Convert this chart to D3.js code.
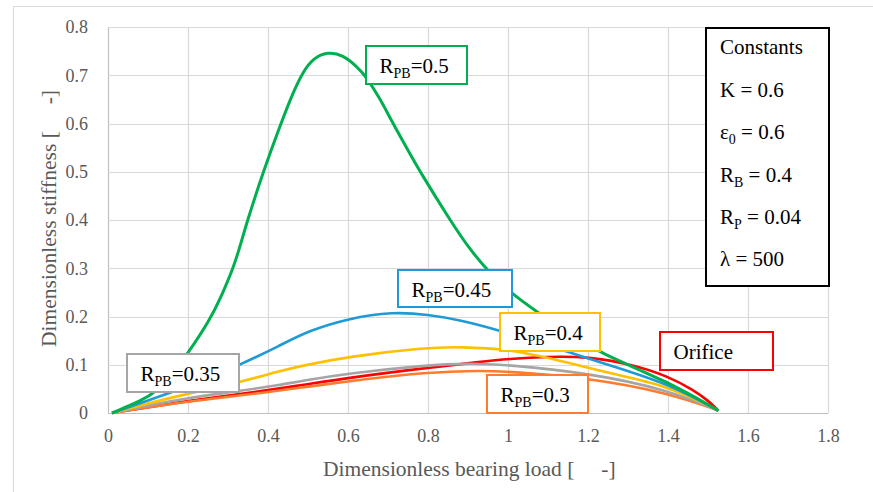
<!DOCTYPE html>
<html>
<head>
<meta charset="utf-8">
<script src="https://cdn.jsdelivr.net/npm/d3@7"></script>
<style>
  body { margin: 0; background: white; }
  text { white-space: pre; }
</style>
</head>
<body>
<div id="chart"></div>
<script>
const FONT = 'Liberation Serif, Times New Roman, serif'

// stiffness vs load
const loadOrifice = [0.01, 0.1, 0.2, 0.33, 0.48, 0.6, 0.8, 0.93, 1.0, 1.1, 1.2, 1.313, 1.4, 1.463, 1.5, 1.526]
const stiffOrifice = [0, 0.012, 0.025, 0.039, 0.057, 0.073, 0.094, 0.106, 0.112, 0.117, 0.117, 0.1, 0.076, 0.048, 0.026, 0.005]

const load030 = [0.01, 0.1, 0.2, 0.33, 0.48, 0.6, 0.8, 0.93, 1.0, 1.2, 1.4, 1.526]
const stiff030 = [0, 0.012, 0.024, 0.036, 0.052, 0.066, 0.085, 0.088, 0.086, 0.073, 0.042, 0.005]

const load035 = [0.01, 0.1, 0.2, 0.33, 0.43, 0.48, 0.6, 0.8, 0.9, 1.0, 1.2, 1.4, 1.526]
const stiff035 = [0, 0.016, 0.031, 0.046, 0.058, 0.066, 0.082, 0.0995, 0.103, 0.1, 0.083, 0.048, 0.005]

const load040 = [0.01, 0.1, 0.2, 0.33, 0.43, 0.48, 0.6, 0.8, 0.88, 1.0, 1.1, 1.238, 1.4, 1.526]
const stiff040 = [0, 0.02, 0.04, 0.064, 0.087, 0.097, 0.117, 0.136, 0.137, 0.132, 0.115, 0.085, 0.057, 0.005]

const load045 = [0.01, 0.1, 0.2, 0.33, 0.43, 0.5, 0.6, 0.713, 0.8, 0.88, 0.976, 1.1, 1.238, 1.4, 1.526]
const stiff045 = [0, 0.026, 0.055, 0.0995, 0.14, 0.17, 0.196, 0.21, 0.204, 0.193, 0.172, 0.14, 0.103, 0.0615, 0.005]

const load050 = [0.01, 0.088, 0.12, 0.15, 0.2, 0.255, 0.285, 0.313, 0.33, 0.347, 0.388, 0.434, 0.463, 0.488, 0.513, 0.549,
    0.588, 0.622, 0.6425, 0.68, 0.709, 0.745, 0.78, 0.855, 0.905, 0.96, 1.013, 1.072, 1.15, 1.23, 1.4, 1.526]
const stiff050 = [0, 0.027, 0.045, 0.068, 0.124, 0.193, 0.245, 0.3, 0.345, 0.395, 0.5, 0.604, 0.665, 0.708, 0.735, 0.749,
    0.742, 0.718, 0.70, 0.652, 0.605, 0.552, 0.5, 0.4, 0.338, 0.285, 0.245, 0.21, 0.165, 0.124, 0.065, 0.005]

const xTicks = [0, 0.2, 0.4, 0.6, 0.8, 1, 1.2, 1.4, 1.6, 1.8]
const yTicks = [0, 0.1, 0.2, 0.3, 0.4, 0.5, 0.6, 0.7, 0.8]

const constants = [
    {name: 'K', sub: '', value: '0.6'},
    {name: 'ε', sub: '0', value: '0.6'},
    {name: 'R', sub: 'B', value: '0.4'},
    {name: 'R', sub: 'P', value: '0.04'},
    {name: 'λ', sub: '', value: '500'},
]

// drawing order: bottom first
const series = [
    {label: 'Orifice', x: loadOrifice, y: stiffOrifice, color: '#ff0000', w: 2.6},
    {label: '0.3', x: load030, y: stiff030, color: '#ff7b2e', w: 2.6},
    {label: '0.35', x: load035, y: stiff035, color: '#a5a5a5', w: 2.6},
    {label: '0.4', x: load040, y: stiff040, color: '#ffc000', w: 2.6},
    {label: '0.45', x: load045, y: stiff045, color: '#1e9bd7', w: 2.6},
    {label: '0.5', x: load050, y: stiff050, color: '#00b050', w: 3},
]

// label boxes (pixels)
const boxes = [
    {text: '0.5', color: '#00b050', x: 366, y: 46, w: 101, h: 38},
    {text: '0.45', color: '#1e9bd7', x: 398, y: 270, w: 114, h: 37},
    {text: '0.4', color: '#ffc000', x: 500, y: 313, w: 100, h: 38},
    {text: '0.3', color: '#ff7b2e', x: 487, y: 375, w: 101, h: 38},
    {text: '0.35', color: '#a5a5a5', x: 127, y: 354, w: 112, h: 38},
    {text: 'Orifice', color: '#ff0000', x: 660, y: 332, w: 113, h: 38},
]

const width = 873, height = 492
const svg = d3.select('#chart').append('svg')
    .attr('width', width)
    .attr('height', height)
    .attr('font-family', FONT)

// outer frame
svg.append('rect')
    .attr('x', 13.5).attr('y', 6.5)
    .attr('width', 900).attr('height', 600)
    .attr('fill', 'white')
    .attr('stroke', '#d9d9d9')

const x = d3.scaleLinear().domain([0, 1.8]).range([108, 828])
const y = d3.scaleLinear().domain([0, 0.8]).range([413, 27])

// grid
svg.append('g').selectAll('line')
    .data(xTicks)
    .enter()
    .append('line')
    .attr('x1', d => Math.round(x(d)) + 0.5)
    .attr('x2', d => Math.round(x(d)) + 0.5)
    .attr('y1', y(0.8))
    .attr('y2', y(0))
    .attr('stroke', d => d === 0 ? '#bfbfbf' : '#d9d9d9')
    .attr('stroke-width', 1.2)

svg.append('g').selectAll('line')
    .data(yTicks)
    .enter()
    .append('line')
    .attr('x1', x(0))
    .attr('x2', x(1.8))
    .attr('y1', d => Math.round(y(d)) + 0.5)
    .attr('y2', d => Math.round(y(d)) + 0.5)
    .attr('stroke', d => d === 0 ? '#bfbfbf' : '#d9d9d9')
    .attr('stroke-width', 1.2)

// axes (labels only)
const xAxis = svg.append('g')
    .attr('transform', `translate(0, ${y(0) + 10})`)
    .call(d3.axisBottom(x).tickValues(xTicks).tickSize(0).tickPadding(6).tickFormat(d3.format('~g')))
xAxis.attr('font-family', FONT).attr('font-size', 18)
xAxis.select('.domain').remove()
xAxis.selectAll('text').attr('fill', '#595959')

const yAxis = svg.append('g')
    .attr('transform', `translate(${x(0) - 20}, 0)`)
    .call(d3.axisLeft(y).tickValues(yTicks).tickSize(0).tickPadding(0).tickFormat(d3.format('~g')))
yAxis.attr('font-family', FONT).attr('font-size', 18)
yAxis.select('.domain').remove()
yAxis.selectAll('text').attr('fill', '#595959')

// axis titles
svg.append('text')
    .text('Dimensionless bearing load [     -]')
    .attr('x', 323)
    .attr('y', 476)
    .attr('font-size', 21.5)
    .attr('fill', '#595959')

svg.append('text')
    .text('Dimensionless stiffness [     -]')
    .attr('transform', 'translate(56, 347) rotate(-90)')
    .attr('font-size', 21.5)
    .attr('fill', '#595959')

// curves
const line = d3.line()
    .x(d => x(d[0]))
    .y(d => y(d[1]))
    .curve(d3.curveBasis)

svg.append('g').selectAll('path')
    .data(series)
    .enter()
    .append('path')
    .attr('d', s => line(s.x.map((v, i) => [v, s.y[i]])))
    .attr('fill', 'none')
    .attr('stroke', s => s.color)
    .attr('stroke-width', s => s.w)
    .attr('stroke-linejoin', 'round')

// label boxes
boxes.forEach(b => {
    const g = svg.append('g').attr('transform', `translate(${b.x}, ${b.y})`)
    g.append('rect')
        .attr('width', b.w)
        .attr('height', b.h)
        .attr('fill', 'white')
        .attr('stroke', b.color)
        .attr('stroke-width', 2)
    const t = g.append('text')
        .attr('x', 13.5)
        .attr('y', 27)
        .attr('font-size', 21)
        .attr('fill', 'black')
    if(b.text === 'Orifice') {
        t.text('Orifice')
    }
    else {
        t.append('tspan').text('R')
        t.append('tspan').text('PB').attr('font-size', 14).attr('dy', 5)
        t.append('tspan').text('=' + b.text).attr('dy', -5)
    }
})

// constants box
const cg = svg.append('g').attr('transform', 'translate(706, 28)')
cg.append('rect')
    .attr('width', 123)
    .attr('height', 258)
    .attr('fill', 'white')
    .attr('stroke', 'black')
    .attr('stroke-width', 2)
cg.append('text')
    .text('Constants')
    .attr('x', 14)
    .attr('y', 26)
    .attr('font-size', 21)

constants.forEach((c, i) => {
    const t = cg.append('text')
        .attr('x', 14)
        .attr('y', 69 + i * 42.3)
        .attr('font-size', 21)
    t.append('tspan').text(c.name)
    if(c.sub) {
        t.append('tspan').text(c.sub).attr('font-size', 14).attr('dy', 5)
        t.append('tspan').text(' = ' + c.value).attr('dy', -5)
    }
    else {
        t.append('tspan').text(' = ' + c.value)
    }
})
</script>
</body>
</html>
